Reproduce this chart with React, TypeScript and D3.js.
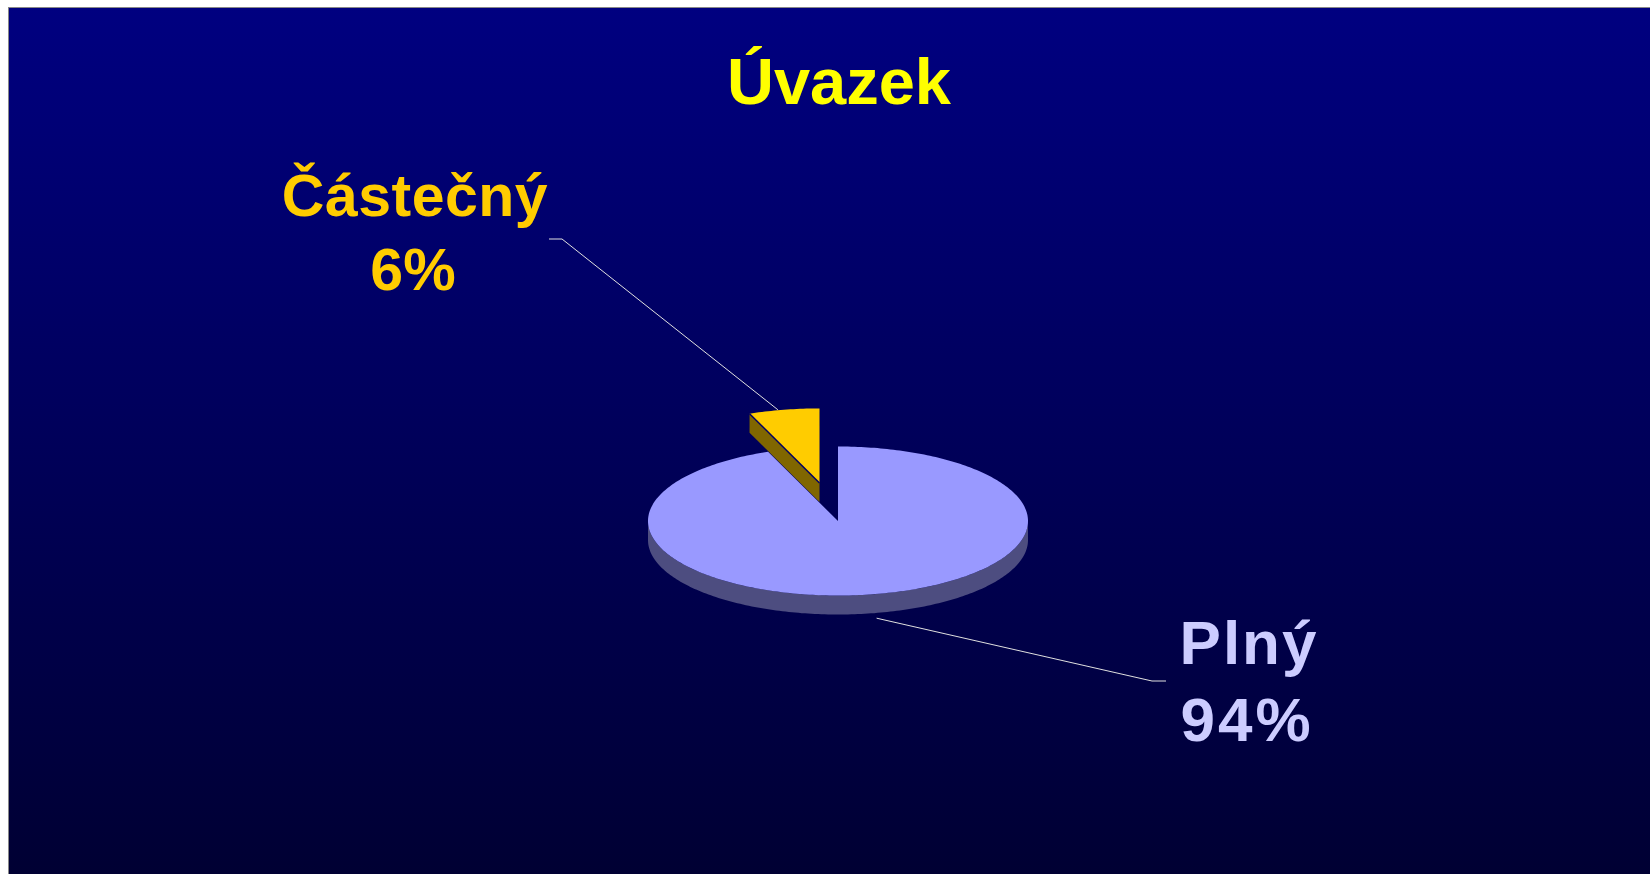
import React from "react";
import * as d3 from "d3";

// ---- data ----
const title = "Úvazek";
const categories = ["Částečný", "Plný"];
const values = [6, 94];
const valueLabels = ["6%", "94%"];

// ---- styles ----
const W = 1650;
const H = 874;
const topFills = ["#FFCC00", "#9999FF"];
const sideFills = ["#806600", "#4D4D80"];
const labelColors = ["#FFCC00", "#CCCCFF"];
const explodeBy = [0.52, 0];
const FONT = "'Liberation Sans', Arial, Helvetica, sans-serif";

// ---- layout ----
const pieGeo = { cx: 838, cy: 521, rx: 190, ry: 74.5, depth: 19 };
const labelLayout = [
  { x: 415, y1: 216, y2: 290, fs: 59, ls1: 0.5, ls2: 0, elbow: [549, 239], elbowEnd: [562, 239], push: [-6, 0] },
  { x: 1249, y1: 664, y2: 741, fs: 62, ls1: 2, ls2: 3, elbow: [1166, 681], elbowEnd: [1152, 681], push: [3, 5] },
];

export default function App() {
  const { cx, cy, rx, ry, depth } = pieGeo;
  const total = d3.sum(values);
  const start = (-2 * Math.PI * values[0]) / total;
  const arcs = d3
    .pie<number>()
    .sort(null)
    .startAngle(start)
    .endAngle(start + 2 * Math.PI)(values);

  const sx = d3.scaleLinear().domain([-1, 1]).range([cx - rx, cx + rx]);
  const sy = d3.scaleLinear().domain([-1, 1]).range([cy - ry, cy + ry]);
  const line = d3.line();

  const pt = (theta: number, e: number, mid: number, dz = 0): [number, number] => [
    sx(Math.sin(theta) + e * Math.sin(mid)),
    sy(-Math.cos(theta) - e * Math.cos(mid)) + dz,
  ];
  const sample = (a: number, b: number) => {
    const n = Math.max(2, Math.ceil(Math.abs(b - a) / (Math.PI / 180)));
    return d3.range(n + 1).map((i) => a + ((b - a) * i) / n);
  };

  const sides: JSX.Element[] = [];
  const tops: JSX.Element[] = [];
  const edges: JSX.Element[] = [];

  arcs.forEach((arc, i) => {
    const a0 = arc.startAngle;
    const a1 = arc.endAngle;
    const mid = (a0 + a1) / 2;
    const e = explodeBy[i];
    const apex: [number, number] = [sx(e * Math.sin(mid)), sy(-e * Math.cos(mid))];
    // outer front wall
    const lo = Math.max(a0, Math.PI / 2);
    const hi = Math.min(a1, (3 * Math.PI) / 2);
    if (hi > lo) {
      const ang = sample(lo, hi);
      const topPts = ang.map((t) => pt(t, e, mid));
      const botPts = ang.slice().reverse().map((t) => pt(t, e, mid, depth));
      sides.push(
        <path key={`w${i}`} d={line([...topPts, ...botPts])! + "Z"} fill={sideFills[i]} />
      );
    }
    // radial walls
    const wall = (a: number) => {
      const p = pt(a, e, mid);
      return [apex, p, [p[0], p[1] + depth], [apex[0], apex[1] + depth]] as [number, number][];
    };
    if (Math.sin(a0) < -1e-6) {
      sides.push(<path key={`r0${i}`} d={line(wall(a0))! + "Z"} fill={sideFills[i]} />);
      const p = pt(a0, e, mid);
      edges.push(
        <line key={`e${i}`} x1={apex[0]} y1={apex[1]} x2={p[0]} y2={p[1]} stroke="#000066" strokeWidth={1.5} />
      );
    }
    if (Math.sin(a1) > 1e-6) {
      sides.push(<path key={`r1${i}`} d={line(wall(a1))! + "Z"} fill={sideFills[i]} />);
    }
    // top face
    const topPts = [apex, ...sample(a0, a1).map((t) => pt(t, e, mid))];
    tops.push(<path key={`t${i}`} d={line(topPts)! + "Z"} fill={topFills[i]} />);
  });

  // leader lines
  const leaders = arcs.map((arc, i) => {
    const mid = (arc.startAngle + arc.endAngle) / 2;
    const e = explodeBy[i];
    const front = -Math.cos(mid) > 0;
    const p = pt(mid, e, mid, front ? depth : 0);
    const L = labelLayout[i];
    const s: [number, number] = [p[0] + L.push[0], p[1] + L.push[1]];
    return (
      <path
        key={`l${i}`}
        d={line([s, L.elbowEnd as [number, number], L.elbow as [number, number]])!}
        fill="none"
        stroke="#E0E0E0"
        strokeWidth={1}
      />
    );
  });

  return (
    <svg
      width={W}
      height={H}
      style={{ position: "fixed", left: 0, top: 0, display: "block" }}
    >
      <defs>
        <linearGradient id="bg" x1="0" y1="0" x2="0" y2="1">
          <stop offset="0" stopColor="#000080" />
          <stop offset="1" stopColor="#000033" />
        </linearGradient>
      </defs>
      <rect x={0} y={0} width={W} height={H} fill="#ffffff" />
      <rect x={9} y={8} width={W - 9} height={H - 8} fill="url(#bg)" />
      <line x1={8} y1={7.5} x2={W} y2={7.5} stroke="#888888" strokeWidth={1} />
      <line x1={8.5} y1={7} x2={8.5} y2={H} stroke="#888888" strokeWidth={1} />

      <text
        x={839}
        y={104}
        textAnchor="middle"
        fill="#FFFF00"
        fontFamily={FONT}
        fontWeight="bold"
        fontSize={65}
      >
        {title}
      </text>

      {sides}
      {tops}
      {edges}
      {leaders}

      {categories.map((c, i) => (
        <g
          key={`lab${i}`}
          fontFamily={FONT}
          fontWeight="bold"
          fontSize={labelLayout[i].fs}
          fill={labelColors[i]}
          textAnchor="middle"
        >
          <text x={labelLayout[i].x} y={labelLayout[i].y1} letterSpacing={labelLayout[i].ls1}>
            {c}
          </text>
          <text x={labelLayout[i].x - 2} y={labelLayout[i].y2} letterSpacing={labelLayout[i].ls2}>
            {valueLabels[i]}
          </text>
        </g>
      ))}
    </svg>
  );
}
